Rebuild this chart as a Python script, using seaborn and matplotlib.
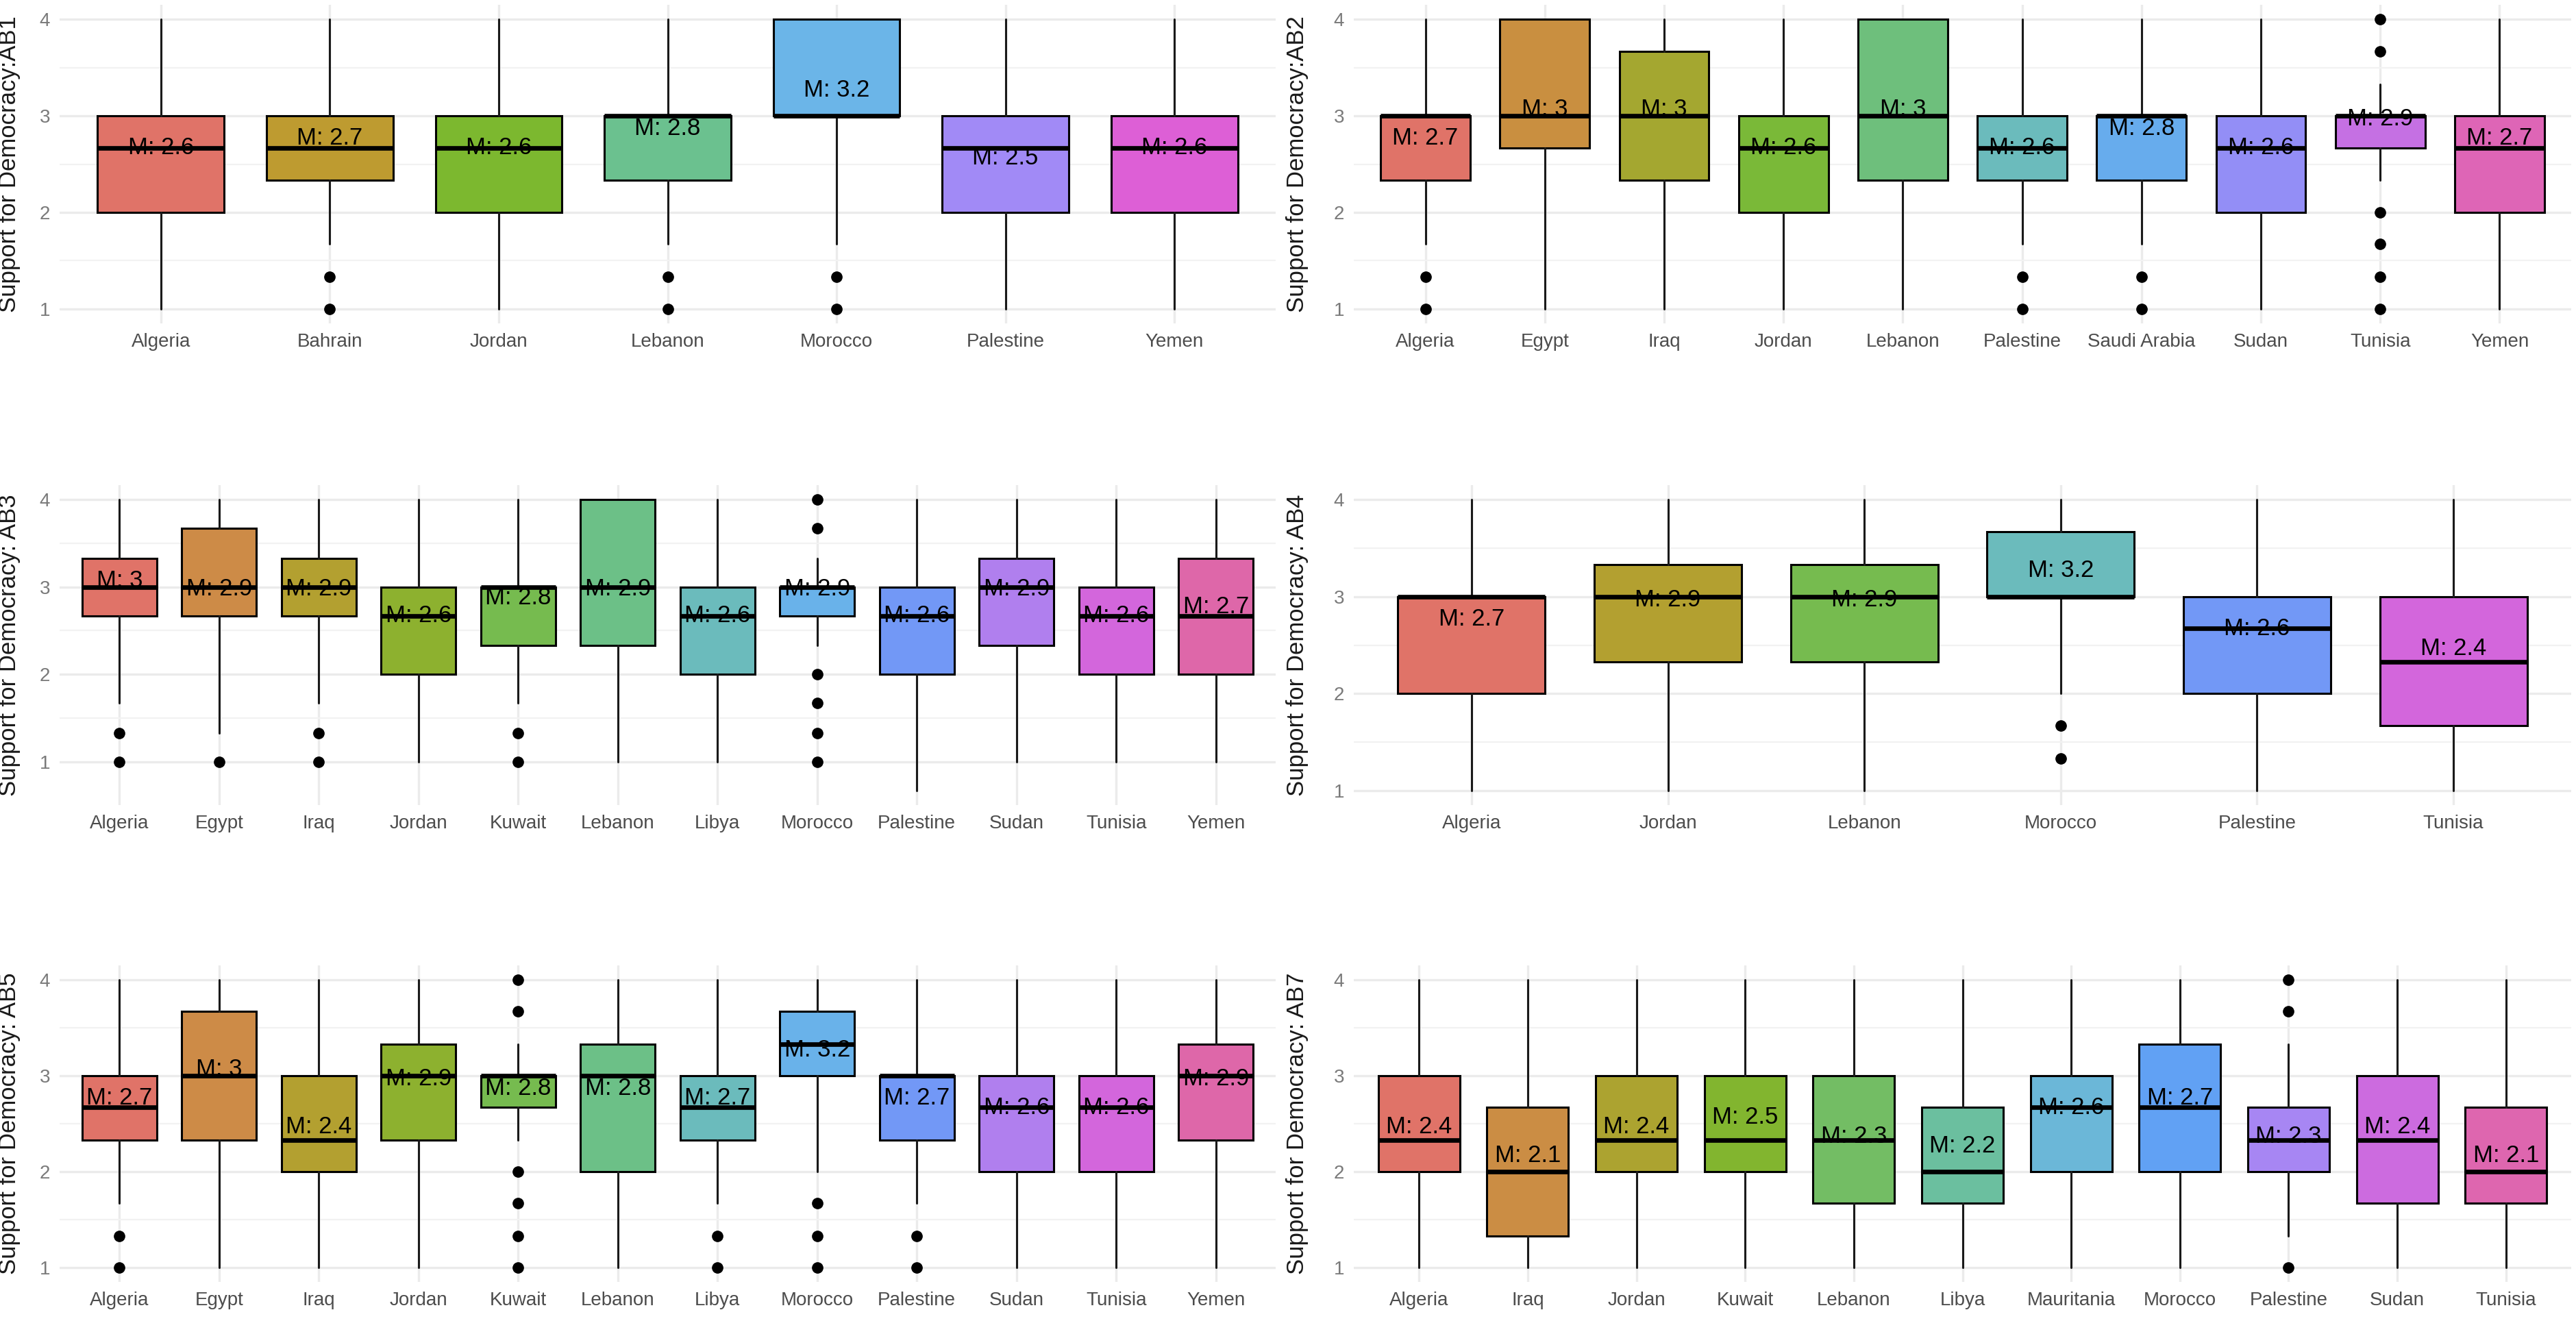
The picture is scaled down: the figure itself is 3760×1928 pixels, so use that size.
import numpy as np
import matplotlib
matplotlib.use("Agg")
import matplotlib.pyplot as plt
import seaborn as sns

# ---------------- data ----------------
ab1_countries = ["Algeria", "Bahrain", "Jordan", "Lebanon", "Morocco", "Palestine", "Yemen"]
ab1_q1 = [2.0, 2.33, 2.0, 2.33, 3.0, 2.0, 2.0]
ab1_med = [2.67, 2.67, 2.67, 3.0, 3.0, 2.67, 2.67]
ab1_q3 = [3.0, 3.0, 3.0, 3.0, 4.0, 3.0, 3.0]
ab1_lo = [1.0, 1.67, 1.0, 1.67, 1.67, 1.0, 1.0]
ab1_hi = [4.0, 4.0, 4.0, 4.0, 4.0, 4.0, 4.0]
ab1_out = [[], [1.33, 1.0], [], [1.33, 1.0], [1.33, 1.0], [], []]
ab1_mean = [2.6, 2.7, 2.6, 2.8, 3.2, 2.5, 2.6]

ab2_countries = ["Algeria", "Egypt", "Iraq", "Jordan", "Lebanon", "Palestine",
                 "Saudi Arabia", "Sudan", "Tunisia", "Yemen"]
ab2_q1 = [2.33, 2.67, 2.33, 2.0, 2.33, 2.33, 2.33, 2.0, 2.67, 2.0]
ab2_med = [3.0, 3.0, 3.0, 2.67, 3.0, 2.67, 3.0, 2.67, 3.0, 2.67]
ab2_q3 = [3.0, 4.0, 3.67, 3.0, 4.0, 3.0, 3.0, 3.0, 3.0, 3.0]
ab2_lo = [1.67, 1.0, 1.0, 1.0, 1.0, 1.67, 1.67, 1.0, 2.33, 1.0]
ab2_hi = [4.0, 4.0, 4.0, 4.0, 4.0, 4.0, 4.0, 4.0, 3.33, 4.0]
ab2_out = [[1.33, 1.0], [], [], [], [], [1.33, 1.0], [1.33, 1.0], [],
           [4.0, 3.67, 2.0, 1.67, 1.33, 1.0], []]
ab2_mean = [2.7, 3.0, 3.0, 2.6, 3.0, 2.6, 2.8, 2.6, 2.9, 2.7]

ab3_countries = ["Algeria", "Egypt", "Iraq", "Jordan", "Kuwait", "Lebanon", "Libya",
                 "Morocco", "Palestine", "Sudan", "Tunisia", "Yemen"]
ab3_q1 = [2.67, 2.67, 2.67, 2.0, 2.33, 2.33, 2.0, 2.67, 2.0, 2.33, 2.0, 2.0]
ab3_med = [3.0, 3.0, 3.0, 2.67, 3.0, 3.0, 2.67, 3.0, 2.67, 3.0, 2.67, 2.67]
ab3_q3 = [3.33, 3.67, 3.33, 3.0, 3.0, 4.0, 3.0, 3.0, 3.0, 3.33, 3.0, 3.33]
ab3_lo = [1.67, 1.33, 1.67, 1.0, 1.67, 1.0, 1.0, 2.33, 0.67, 1.0, 1.0, 1.0]
ab3_hi = [4.0, 4.0, 4.0, 4.0, 4.0, 4.0, 4.0, 3.33, 4.0, 4.0, 4.0, 4.0]
ab3_out = [[1.33, 1.0], [1.0], [1.33, 1.0], [], [1.33, 1.0], [], [],
           [4.0, 3.67, 2.0, 1.67, 1.33, 1.0], [], [], [], []]
ab3_mean = [3.0, 2.9, 2.9, 2.6, 2.8, 2.9, 2.6, 2.9, 2.6, 2.9, 2.6, 2.7]

ab4_countries = ["Algeria", "Jordan", "Lebanon", "Morocco", "Palestine", "Tunisia"]
ab4_q1 = [2.0, 2.33, 2.33, 3.0, 2.0, 1.67]
ab4_med = [3.0, 3.0, 3.0, 3.0, 2.67, 2.33]
ab4_q3 = [3.0, 3.33, 3.33, 3.67, 3.0, 3.0]
ab4_lo = [1.0, 1.0, 1.0, 2.0, 1.0, 1.0]
ab4_hi = [4.0, 4.0, 4.0, 4.0, 4.0, 4.0]
ab4_out = [[], [], [], [1.67, 1.33], [], []]
ab4_mean = [2.7, 2.9, 2.9, 3.2, 2.6, 2.4]

ab5_countries = ["Algeria", "Egypt", "Iraq", "Jordan", "Kuwait", "Lebanon", "Libya",
                 "Morocco", "Palestine", "Sudan", "Tunisia", "Yemen"]
ab5_q1 = [2.33, 2.33, 2.0, 2.33, 2.67, 2.0, 2.33, 3.0, 2.33, 2.0, 2.0, 2.33]
ab5_med = [2.67, 3.0, 2.33, 3.0, 3.0, 3.0, 2.67, 3.33, 3.0, 2.67, 2.67, 3.0]
ab5_q3 = [3.0, 3.67, 3.0, 3.33, 3.0, 3.33, 3.0, 3.67, 3.0, 3.0, 3.0, 3.33]
ab5_lo = [1.67, 1.0, 1.0, 1.0, 2.33, 1.0, 1.67, 2.0, 1.67, 1.0, 1.0, 1.0]
ab5_hi = [4.0, 4.0, 4.0, 4.0, 3.33, 4.0, 4.0, 4.0, 4.0, 4.0, 4.0, 4.0]
ab5_out = [[1.33, 1.0], [], [], [], [4.0, 3.67, 2.0, 1.67, 1.33, 1.0], [],
           [1.33, 1.0], [1.67, 1.33, 1.0], [1.33, 1.0], [], [], []]
ab5_mean = [2.7, 3.0, 2.4, 2.9, 2.8, 2.8, 2.7, 3.2, 2.7, 2.6, 2.6, 2.9]

ab7_countries = ["Algeria", "Iraq", "Jordan", "Kuwait", "Lebanon", "Libya",
                 "Mauritania", "Morocco", "Palestine", "Sudan", "Tunisia"]
ab7_q1 = [2.0, 1.33, 2.0, 2.0, 1.67, 1.67, 2.0, 2.0, 2.0, 1.67, 1.67]
ab7_med = [2.33, 2.0, 2.33, 2.33, 2.33, 2.0, 2.67, 2.67, 2.33, 2.33, 2.0]
ab7_q3 = [3.0, 2.67, 3.0, 3.0, 3.0, 2.67, 3.0, 3.33, 2.67, 3.0, 2.67]
ab7_lo = [1.0, 1.0, 1.0, 1.0, 1.0, 1.0, 1.0, 1.0, 1.33, 1.0, 1.0]
ab7_hi = [4.0, 4.0, 4.0, 4.0, 4.0, 4.0, 4.0, 4.0, 3.33, 4.0, 4.0]
ab7_out = [[], [], [], [], [], [], [], [], [4.0, 3.67, 1.0], [], []]
ab7_mean = [2.4, 2.1, 2.4, 2.5, 2.3, 2.2, 2.6, 2.7, 2.3, 2.4, 2.1]

panels = [
    ("Support for Democracy:AB1", ab1_countries, ab1_q1, ab1_med, ab1_q3, ab1_lo, ab1_hi, ab1_out, ab1_mean),
    ("Support for Democracy:AB2", ab2_countries, ab2_q1, ab2_med, ab2_q3, ab2_lo, ab2_hi, ab2_out, ab2_mean),
    ("Support for Democracy: AB3", ab3_countries, ab3_q1, ab3_med, ab3_q3, ab3_lo, ab3_hi, ab3_out, ab3_mean),
    ("Support for Democracy: AB4", ab4_countries, ab4_q1, ab4_med, ab4_q3, ab4_lo, ab4_hi, ab4_out, ab4_mean),
    ("Support for Democracy: AB5", ab5_countries, ab5_q1, ab5_med, ab5_q3, ab5_lo, ab5_hi, ab5_out, ab5_mean),
    ("Support for Democracy: AB7", ab7_countries, ab7_q1, ab7_med, ab7_q3, ab7_lo, ab7_hi, ab7_out, ab7_mean),
]

# colour wheel (hue angle -> RGB), ggplot-style hue spacing
wheel_hue = [15, 66, 118, 169, 221, 248, 272, 324, 375]
wheel_r = [224, 191, 124, 107, 107, 95, 161, 221, 224]
wheel_g = [115, 155, 184, 193, 181, 158, 138, 95, 115]
wheel_b = [104, 48, 47, 143, 232, 246, 246, 214, 104]


def hue_pal(n):
    hues = [15 + 360 * k / n for k in range(n)]
    cols = [(np.interp(h, wheel_hue, wheel_r) / 255,
             np.interp(h, wheel_hue, wheel_g) / 255,
             np.interp(h, wheel_hue, wheel_b) / 255) for h in hues]
    return sns.color_palette(cols)


# ---------------- figure ----------------
sns.set_theme(style="white")
plt.rcParams["font.family"] = ["Liberation Sans", "DejaVu Sans"]

W, H = 3760, 1928
fig = plt.figure(figsize=(W / 100, H / 100), dpi=100)
fig.patch.set_facecolor("white")

cols = [(87, 1775), (1976, 1777)]
rows = [(7, 472), (708, 1175), (1409, 1871)]
label_x = [-0.032, -0.037]

for idx, (ylab, cats, q1, med, q3, lo, hi, outs, means) in enumerate(panels):
    r, c = divmod(idx, 2)
    x0, w = cols[c]
    top, bot = rows[r]
    ax = fig.add_axes([x0 / W, 1 - bot / H, w / W, (bot - top) / H])
    n = len(cats)
    pal = hue_pal(n)
    stats = [dict(med=med[i], q1=q1[i], q3=q3[i], whislo=lo[i], whishi=hi[i],
                  fliers=outs[i], label=cats[i]) for i in range(n)]
    bp = ax.bxp(stats, positions=list(range(n)), widths=0.75, patch_artist=True,
                showcaps=False, showfliers=True,
                boxprops=dict(edgecolor="black", linewidth=2.2),
                whiskerprops=dict(color="#1a1a1a", linewidth=2.2),
                medianprops=dict(color="black", linewidth=4.8, solid_capstyle="butt"),
                flierprops=dict(marker="o", markerfacecolor="black", markeredgecolor="black",
                                markersize=11, linestyle="none"))
    for patch, col in zip(bp["boxes"], pal):
        patch.set_facecolor(col)
        patch.set_zorder(2)
    for m in bp["medians"]:
        m.set_zorder(3)
    for i, m in enumerate(means):
        ax.text(i, m, f"M: {round(m, 1):g}", ha="center", va="baseline",
                fontsize=25, color="black", zorder=5)

    allv = lo + hi + [v for o in outs for v in o]
    vmin, vmax = min(allv), max(allv)
    pad = 0.05 * (vmax - vmin)
    ax.set_ylim(vmin - pad, vmax + pad)
    ax.set_xlim(-0.6, n - 1 + 0.6)
    ax.set_xticks(range(n))
    ax.set_xticklabels(cats)
    ax.set_yticks([1, 2, 3, 4])
    ax.set_yticks([1.5, 2.5, 3.5], minor=True)
    ax.set_axisbelow(True)
    ax.grid(which="major", axis="both", color="#EBEBEB", linewidth=2.4)
    ax.grid(which="minor", axis="y", color="#F2F2F2", linewidth=1.6)
    ax.tick_params(axis="both", which="both", length=0)
    ax.tick_params(axis="x", labelsize=20, labelcolor="#4D4D4D", pad=10)
    ax.tick_params(axis="y", labelsize=20, labelcolor="#7A7A7A", pad=10)
    ax.set_xlabel("")
    ax.set_ylabel(ylab, fontsize=25, color="#1A1A1A")
    ax.yaxis.set_label_coords(label_x[c], 0.5)
    sns.despine(ax=ax, left=True, bottom=True)
    ax.set_facecolor("white")

fig.savefig("out.png", dpi=100, facecolor="white")
